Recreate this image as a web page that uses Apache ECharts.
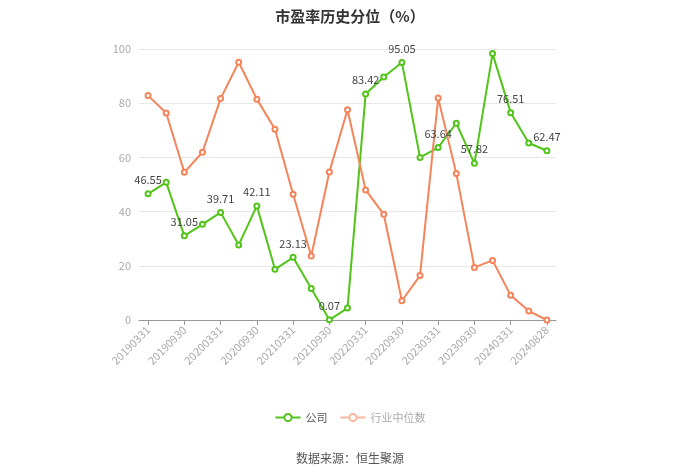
<!DOCTYPE html>
<html><head><meta charset="utf-8">
<script src="https://cdn.jsdelivr.net/npm/echarts@6/dist/echarts.min.js"></script>
<style>html,body{margin:0;padding:0;background:#fff}#c{width:700px;height:474px}</style>
</head><body><div id="c"></div>
<script>
const categories = ['20190331','20190630','20190930','20191231','20200331','20200630','20200930','20201231','20210331','20210630','20210930','20211231','20220331','20220630','20220930','20221231','20230331','20230630','20230930','20231231','20240331','20240630','20240828'];
const companyValues = [46.55,50.8,31.05,35.3,39.71,27.7,42.11,18.7,23.13,11.6,0.07,4.4,83.42,89.7,95.05,60.0,63.64,72.6,57.82,98.3,76.51,65.3,62.47];
const industryValues = [82.8,76.4,54.5,61.9,81.7,95.1,81.5,70.4,46.4,23.6,54.6,77.6,48.0,39.0,7.1,16.4,81.9,54.1,19.4,22.0,9.1,3.3,0.0];
const yTicks = [0,20,40,60,80,100];

const chart = echarts.init(document.getElementById('c'));
const font = 'Microsoft YaHei, "Noto Sans CJK SC", sans-serif';
chart.setOption({
  animation:false,
  title:[{text:'市盈率历史分位（%）',left:'center',top:4,textStyle:{fontSize:15,fontWeight:'bold',color:'#333',fontFamily:font}},
         {text:'数据来源：恒生聚源',left:'center',top:447,textStyle:{fontSize:12,fontWeight:'normal',color:'#555',fontFamily:font}}],
  legend:{top:407,left:'center',itemWidth:25,itemHeight:9,itemGap:12,
    data:[{name:'公司',textStyle:{color:'#555'}},
          {name:'行业中位数',textStyle:{color:'#aaa'},itemStyle:{color:'#f9b89c',borderColor:'#f9b89c'},lineStyle:{color:'#f9b89c'}}],
    textStyle:{fontSize:11,fontFamily:font}},
  grid:{left:139,right:144,top:49,bottom:154},
  xAxis:{type:'category',data:categories,boundaryGap:true,
    axisLine:{lineStyle:{color:'#999'}},axisTick:{show:true,alignWithLabel:true,interval:1,lineStyle:{color:'#999'}},
    axisLabel:{interval:1,rotate:45,color:'#aaa',fontSize:11,fontFamily:font}},
  yAxis:{type:'value',min:yTicks[0],max:yTicks[yTicks.length-1],interval:20,
    axisLine:{show:false},axisTick:{show:false},
    axisLabel:{color:'#aaa',fontSize:11,fontFamily:font},
    splitLine:{lineStyle:{color:'#e8e8e8'}}},
  series:[
    {name:'公司',type:'line',data:companyValues,symbol:'emptyCircle',symbolSize:5,
      itemStyle:{color:'#52c41a'},lineStyle:{width:2,color:'#52c41a'},
      label:{show:true,position:'top',color:'#444',fontSize:11,fontFamily:font,
        formatter:p=>p.dataIndex%2===0?p.value.toFixed(2):''}},
    {name:'行业中位数',type:'line',data:industryValues,symbol:'emptyCircle',symbolSize:5,
      itemStyle:{color:'#f5845a'},lineStyle:{width:2,color:'#f5845a'}}
  ]
});
</script></body></html>
